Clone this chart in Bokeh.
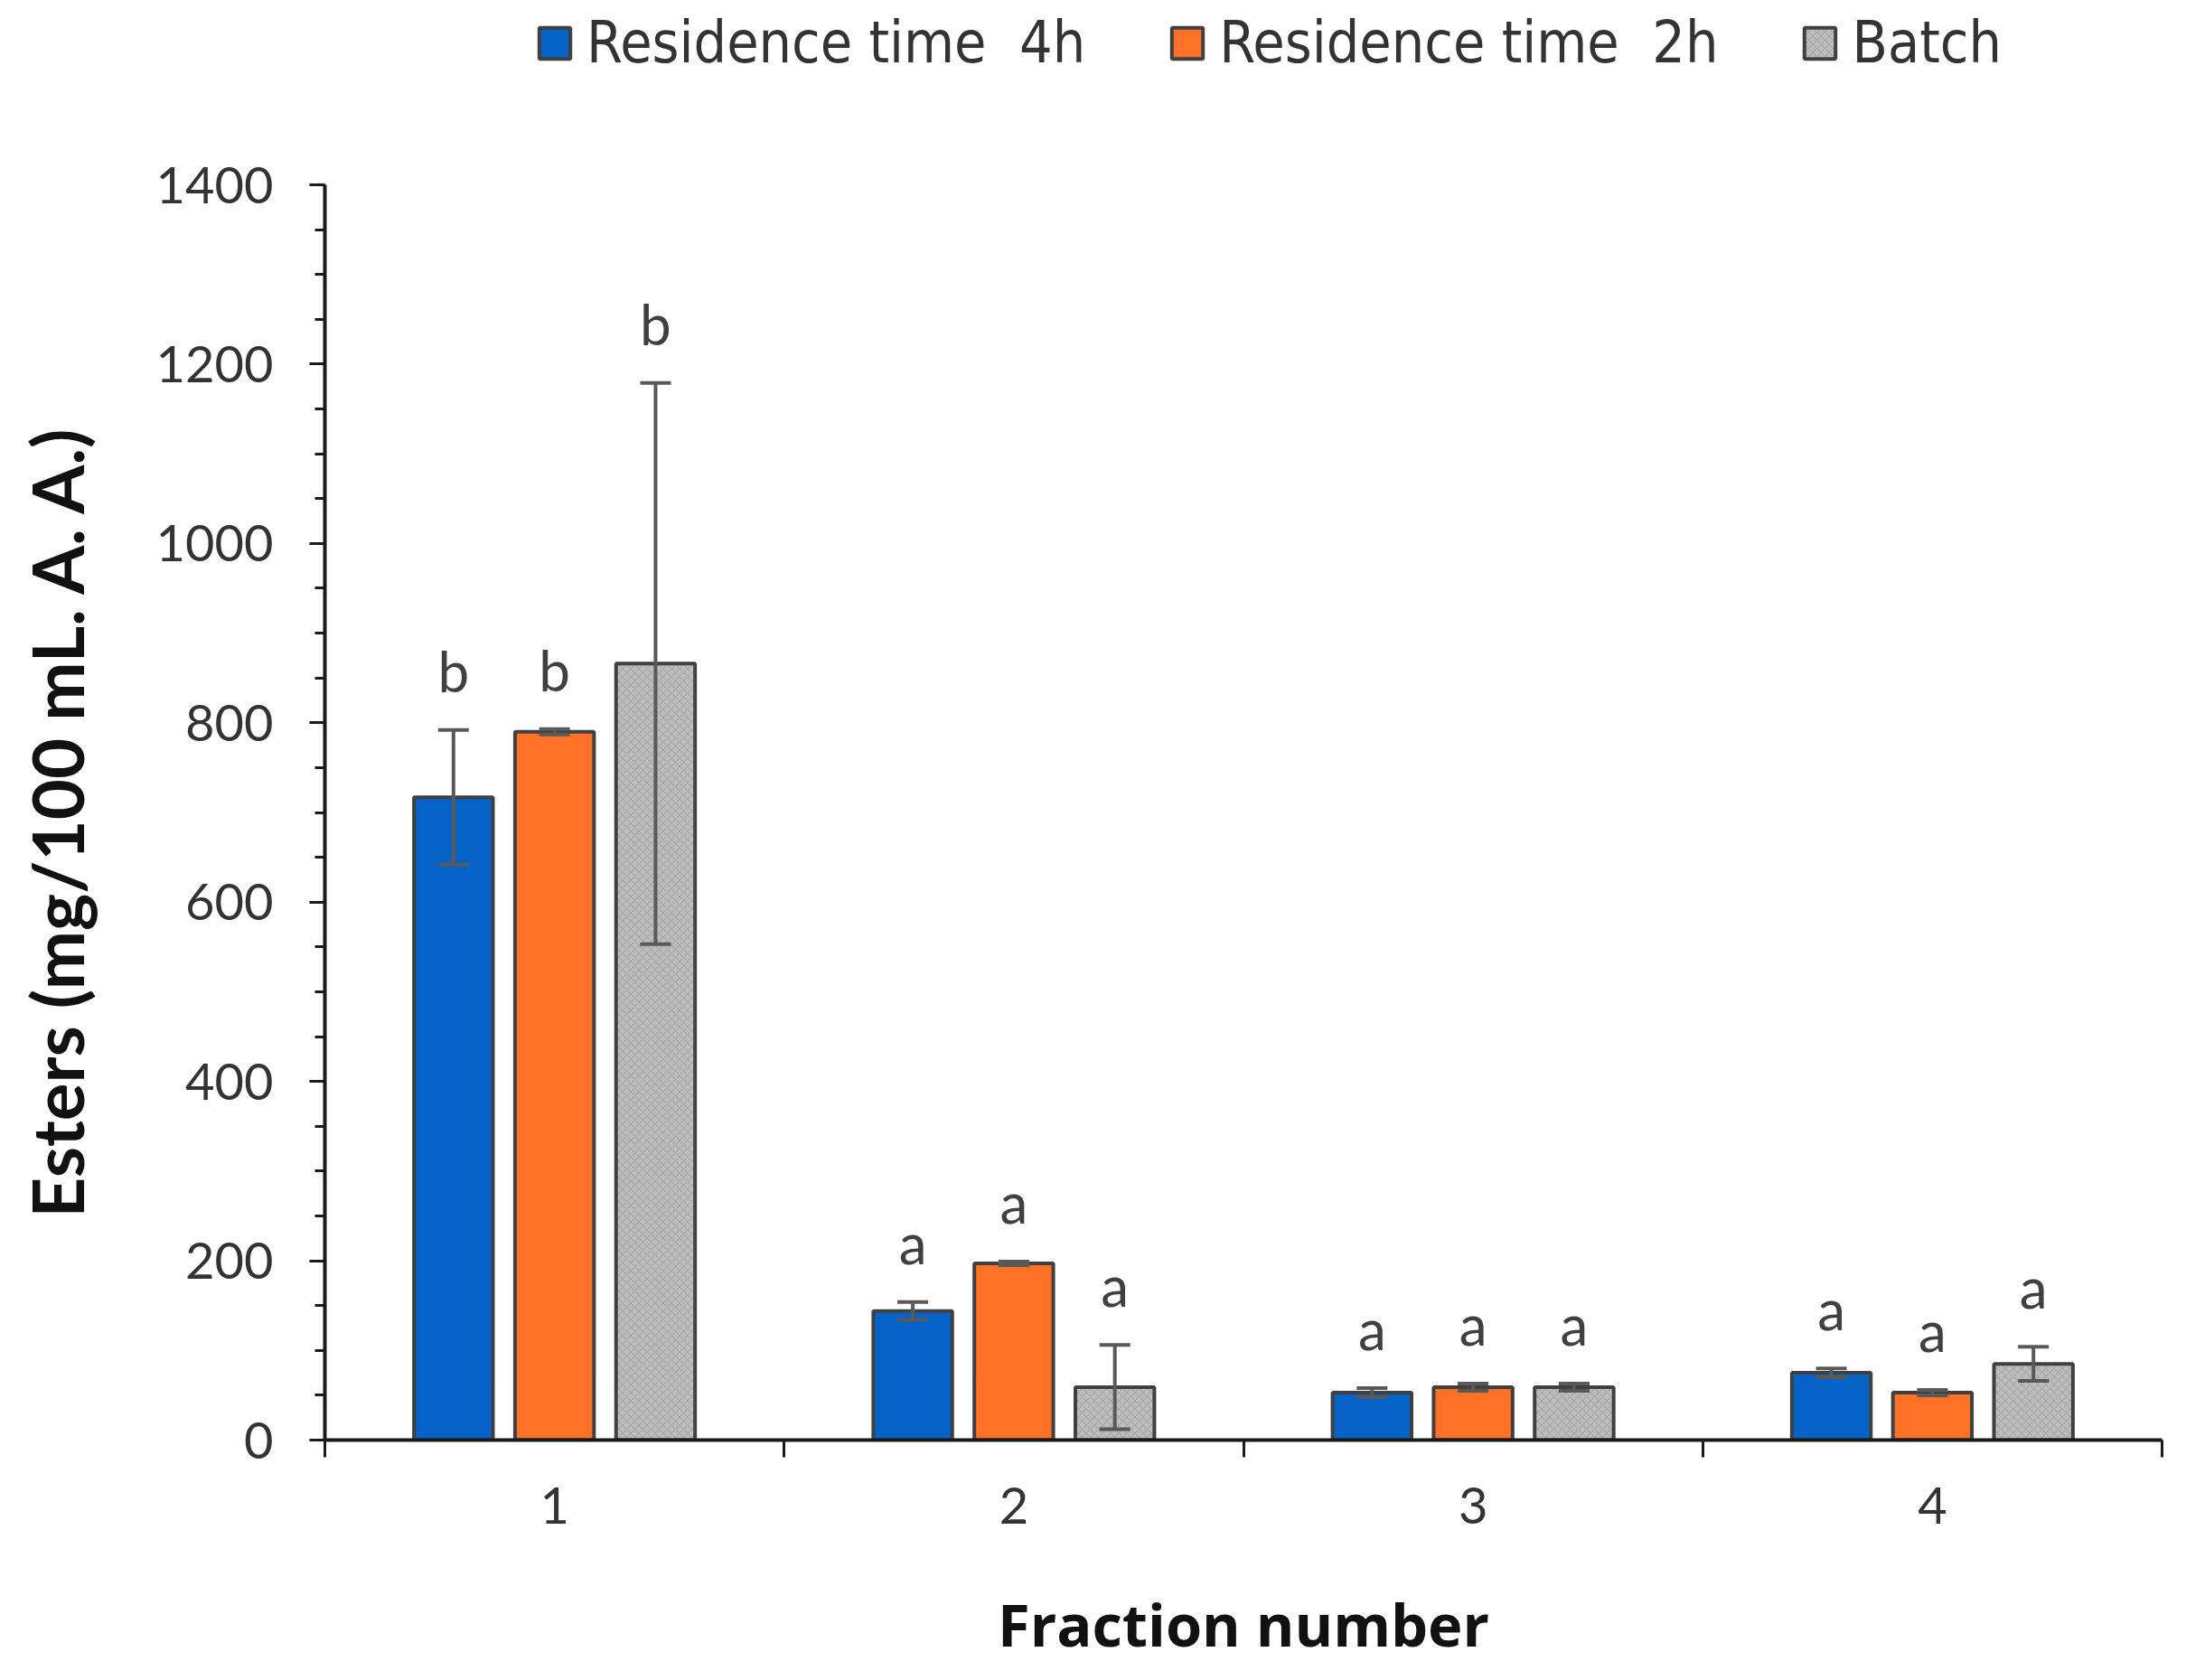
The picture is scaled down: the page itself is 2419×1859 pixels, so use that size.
import numpy as np
from bokeh.plotting import figure
from bokeh.layouts import column
from bokeh.models import (ColumnDataSource, Whisker, TeeHead, FixedTicker,
                          SingleIntervalTicker, Legend, LegendItem, Range1d)
from bokeh.core.properties import value
from bokeh.embed import file_html
from bokeh.resources import INLINE

# ---------------- data ----------------
fractions = [1, 2, 3, 4]
series_names = ["Residence time  4h", "Residence time  2h", "Batch"]
res_4h = [717, 144, 53, 75]
res_4h_err = [75, 10, 5, 5]
res_2h = [790, 197, 59, 53]
res_2h_err = [3, 2, 4, 3]
batch = [866, 59, 59, 85]
batch_err = [313, 47, 4, 19]
letters_4h = ["b", "a", "a", "a"]
letters_2h = ["b", "a", "a", "a"]
letters_batch = ["b", "a", "a", "a"]

# ---------------- style ----------------
colors = ["#0563C8", "#FF7126", "#BDBDBD"]
outline = "#404040"
err_color = "#595959"
font = "Lato"
hatch_kw = dict(hatch_pattern="x", hatch_scale=9, hatch_weight=1.2,
                hatch_color="#A2A2A2", hatch_alpha=0.8)

W = 2400
H_TOP = 150
H_MAIN = 1693

# ---------------- main chart ----------------
p = figure(width=W, height=H_MAIN, output_backend="svg", toolbar_location=None,
           x_range=Range1d(0.5, 4.5), y_range=Range1d(0, 1400),
           min_border_left=359, min_border_right=8,
           min_border_top=54, min_border_bottom=250)
p.outline_line_color = None
p.xgrid.visible = False
p.ygrid.visible = False
p.background_fill_color = "white"

offsets = [-0.22, 0.0, 0.22]
bar_w = 0.172
vals = [res_4h, res_2h, batch]
errs = [res_4h_err, res_2h_err, batch_err]
lets = [letters_4h, letters_2h, letters_batch]

for i in range(3):
    x = np.array(fractions, dtype=float) + offsets[i]
    v = np.array(vals[i], dtype=float)
    e = np.array(errs[i], dtype=float)
    src = ColumnDataSource(dict(x=x, top=v, upper=v + e, lower=v - e,
                                lab=lets[i]))
    kw = hatch_kw if i == 2 else {}
    p.vbar(x="x", top="top", bottom=0, width=bar_w, source=src,
           fill_color=colors[i], line_color=outline, line_width=4, **kw)
    wk = Whisker(source=src, base="x", upper="upper", lower="lower",
                 line_color=err_color, line_width=4, level="overlay",
                 upper_head=TeeHead(size=34, line_color=err_color, line_width=4),
                 lower_head=TeeHead(size=34, line_color=err_color, line_width=4))
    p.add_layout(wk)
    p.text(x="x", y="upper", text="lab", source=src, text_align="center",
           text_baseline="alphabetic", y_offset=-66,
           text_font=value(font), text_font_size="62px", text_color="#404040")

# ---------------- axes ----------------
yax = p.yaxis[0]
yax.ticker = SingleIntervalTicker(interval=200, num_minor_ticks=4)
yax.axis_line_color = "#1a1a1a"
yax.axis_line_width = 4
yax.major_tick_line_color = "#1a1a1a"
yax.major_tick_line_width = 3
yax.minor_tick_line_color = "#1a1a1a"
yax.minor_tick_line_width = 3
yax.major_tick_in = 0
yax.major_tick_out = 17
yax.minor_tick_in = 0
yax.minor_tick_out = 11
yax.major_label_text_font = font
yax.major_label_text_font_size = "56px"
yax.major_label_text_color = "#333333"
yax.major_label_standoff = 40
yax.axis_label = "Esters  (mg/100 mL. A. A.)"
yax.axis_label_text_font = font
yax.axis_label_text_font_style = "bold"
yax.axis_label_text_font_size = "78px"
yax.axis_label_text_color = "#111111"
yax.axis_label_standoff = 60

xax = p.xaxis[0]
xax.ticker = FixedTicker(ticks=fractions, minor_ticks=[0.5, 1.5, 2.5, 3.5, 4.5])
xax.axis_line_color = "#1a1a1a"
xax.axis_line_width = 4
xax.major_tick_in = 0
xax.major_tick_out = 0
xax.major_tick_line_color = None
xax.minor_tick_line_color = "#1a1a1a"
xax.minor_tick_line_width = 3
xax.minor_tick_in = 0
xax.minor_tick_out = 19
xax.major_label_text_font = font
xax.major_label_text_font_size = "56px"
xax.major_label_text_color = "#333333"
xax.major_label_standoff = 33
xax.axis_label = "Fraction number"
xax.axis_label_text_font = "Open Sans"
xax.axis_label_text_font_style = "bold"
xax.axis_label_text_font_size = "65px"
xax.axis_label_text_color = "#111111"
xax.axis_label_standoff = 64

# ---------------- legend (strip above the chart) ----------------
top = figure(width=W, height=H_TOP, output_backend="svg", toolbar_location=None,
             x_range=Range1d(0, 1), y_range=Range1d(0, 1),
             min_border_left=0, min_border_right=0,
             min_border_top=0, min_border_bottom=0)
top.axis.visible = False
top.xgrid.visible = False
top.ygrid.visible = False
top.outline_line_color = None

leg_renderers = []
for i in range(3):
    kw = hatch_kw if i == 2 else {}
    r = top.vbar(x=[fractions[0]], top=[vals[i][0]], width=bar_w,
                 fill_color=colors[i], line_color=outline, line_width=4, **kw)
    r.visible = False  # only its legend swatch is shown
    leg_renderers.append(r)

items = [LegendItem(label=series_names[i], renderers=[leg_renderers[i]])
         for i in range(3)]
legend = Legend(items=items, orientation="horizontal", location=(233, 66),
                glyph_width=43, glyph_height=43, label_standoff=14, spacing=91,
                padding=0, margin=0, border_line_color=None,
                background_fill_alpha=0, inactive_fill_alpha=0,
                label_text_font="DejaVu Sans Condensed",
                label_text_font_size="64px", label_text_color="#333333")
top.add_layout(legend)

layout = column(top, p, spacing=0)
open("out.html", "w").write(file_html(layout, INLINE))
